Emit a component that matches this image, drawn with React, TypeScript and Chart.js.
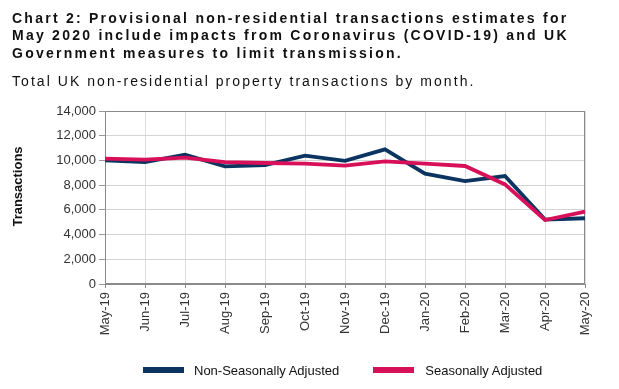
import React, { useEffect, useRef } from "react";
import { Chart, registerables } from "chart.js";

Chart.register(...registerables);

const months = [
  "May-19", "Jun-19", "Jul-19", "Aug-19", "Sep-19", "Oct-19", "Nov-19",
  "Dec-19", "Jan-20", "Feb-20", "Mar-20", "Apr-20", "May-20",
];
const nonSeasonallyAdjusted = [10000, 9870, 10470, 9520, 9630, 10380, 9960, 10900, 8930, 8330, 8740, 5210, 5320];
const seasonallyAdjusted = [10150, 10070, 10230, 9870, 9790, 9740, 9580, 9930, 9740, 9550, 8060, 5180, 5860];
const yMin = 0;
const yMax = 14000;
const yStep = 2000;

const titleLines = [
  "Chart 2: Provisional non-residential transactions estimates for",
  "May 2020 include impacts from Coronavirus (COVID-19) and UK",
  "Government measures to limit transmission.",
];
const subtitle = "Total UK non-residential property transactions by month.";
const yTitle = "Transactions";
const nsaLabel = "Non-Seasonally Adjusted";
const saLabel = "Seasonally Adjusted";

const NSA_COLOR = "#0b3560";
const SA_COLOR = "#d8105a";
const FONT = "'Liberation Sans', Arial, Helvetica, sans-serif";

export default function App() {
  const ref = useRef<HTMLCanvasElement | null>(null);

  useEffect(() => {
    if (!ref.current) return;
    const framePlugin = {
      id: "frame",
      beforeDatasetsDraw(chart: any) {
        const { ctx, chartArea: a } = chart;
        ctx.save();
        ctx.strokeStyle = "#8a8a8a";
        ctx.lineWidth = 1;
        ctx.strokeRect(Math.round(a.left) + 0.5, Math.round(a.top) + 0.5, Math.round(a.right - a.left) - 1, Math.round(a.bottom - a.top) - 1);
        ctx.restore();
      },
      afterDraw(chart: any) {
        const { ctx } = chart;
        ctx.save();
        ctx.translate(18, 186.5);
        ctx.rotate(-Math.PI / 2);
        ctx.font = `bold 13px ${FONT}`;
        ctx.fillStyle = "#111";
        ctx.textAlign = "center";
        ctx.textBaseline = "middle";
        ctx.fillText(yTitle, 0, 0);
        ctx.restore();
      },
    };

    const chart = new Chart(ref.current, {
      type: "line",
      data: {
        labels: months,
        datasets: [
          {
            label: nsaLabel,
            data: nonSeasonallyAdjusted,
            borderColor: NSA_COLOR,
            backgroundColor: NSA_COLOR,
            borderWidth: 3.8,
            pointRadius: 0,
            tension: 0,
            order: 2,
          },
          {
            label: saLabel,
            data: seasonallyAdjusted,
            borderColor: SA_COLOR,
            backgroundColor: SA_COLOR,
            borderWidth: 3.8,
            pointRadius: 0,
            tension: 0,
            order: 1,
          },
        ],
      },
      options: {
        animation: false,
        responsive: false,
        maintainAspectRatio: false,
        layout: { padding: { top: 111, left: 0, right: 34, bottom: 45 } },
        plugins: {
          legend: { display: false },
          tooltip: { enabled: false },
          title: { display: false },
        },
        scales: {
          x: {
            grid: { color: "#dcdcdc", tickColor: "#8a8a8a", tickLength: 4, offset: false },
            border: { color: "#8a8a8a" },
            ticks: {
              autoSkip: false,
              maxRotation: 90,
              minRotation: 90,
              padding: 4,
              color: "#333",
              font: { family: FONT, size: 13 },
            },
            afterFit: (scale: any) => {
              scale.height = 60;
            },
          },
          y: {
            min: yMin,
            max: yMax,
            grid: { color: "#d4d4d4", tickColor: "#9a9a9a", tickLength: 6 },
            border: { color: "#8a8a8a" },
            ticks: {
              stepSize: yStep,
              padding: 3,
              color: "#333",
              font: { family: FONT, size: 13 },
              callback: (v: any) => Number(v).toLocaleString("en-US"),
            },
            afterFit: (scale: any) => {
              scale.width = 105;
            },
          },
        },
      },
      plugins: [framePlugin],
    });
    return () => chart.destroy();
  }, []);

  return (
    <div style={{ position: "absolute", left: 0, top: 0, width: 619, height: 389, background: "#fff", fontFamily: FONT, overflow: "hidden" }}>
      <canvas ref={ref} width={619} height={389} style={{ position: "absolute", left: 0, top: 0, width: 619, height: 389 }} />
      <div style={{ position: "absolute", left: 12, top: 9.5, fontWeight: "bold", fontSize: 14, lineHeight: "17.8px", letterSpacing: "2.25px", color: "#111", whiteSpace: "nowrap" }}>
        {titleLines.map((l, i) => (
          <div key={i}>{l}</div>
        ))}
      </div>
      <div style={{ position: "absolute", left: 12, top: 73, fontSize: 14, lineHeight: "16px", letterSpacing: "2.05px", color: "#111", whiteSpace: "nowrap" }}>
        {subtitle}
      </div>
      <div style={{ position: "absolute", left: 143, top: 363, height: 15, display: "flex", alignItems: "flex-start", fontSize: 13, lineHeight: "15px", color: "#111", whiteSpace: "nowrap" }}>
        <div style={{ width: 41, height: 6, marginTop: 4, background: NSA_COLOR }} />
        <div style={{ marginLeft: 10 }}>{nsaLabel}</div>
        <div style={{ width: 41, height: 6, marginTop: 4, marginLeft: 34, background: SA_COLOR }} />
        <div style={{ marginLeft: 11 }}>{saLabel}</div>
      </div>
    </div>
  );
}
